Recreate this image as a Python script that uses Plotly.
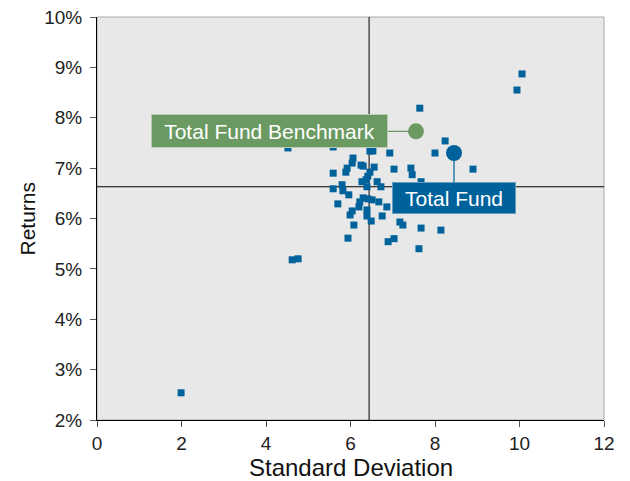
import plotly.graph_objects as go

std_dev = [10.06, 9.94, 4.62, 4.76, 1.99, 4.52, 7.64, 8.24, 8.00, 8.90,
           6.93, 7.03, 7.43, 7.46, 7.67, 6.46, 6.53, 5.59, 6.06, 6.04,
           5.92, 5.89, 6.25, 6.30, 6.56, 6.46, 6.41, 5.59, 6.27, 6.37,
           6.63, 6.72, 6.39, 5.80, 5.59, 5.82, 5.96, 5.70, 6.30, 6.41,
           6.51, 6.22, 6.67, 6.20, 6.86, 6.04, 5.99, 6.39, 6.39, 6.49,
           6.75, 6.08, 7.17, 7.24, 7.67, 8.14, 5.94, 6.89, 7.03, 7.62]
returns = [8.87, 8.55, 5.18, 5.20, 2.54, 7.40, 8.19, 7.54, 7.30, 6.98,
           7.30, 6.98, 7.00, 6.87, 6.73, 7.34, 7.34, 7.42, 7.20, 7.10,
           7.00, 6.92, 7.06, 7.04, 7.02, 6.92, 6.84, 6.90, 6.73, 6.77,
           6.73, 6.63, 6.63, 6.67, 6.59, 6.55, 6.47, 6.29, 6.41, 6.39,
           6.37, 6.33, 6.33, 6.23, 6.23, 6.15, 6.07, 6.17, 6.05, 5.95,
           6.05, 5.87, 5.93, 5.87, 5.81, 5.77, 5.61, 5.54, 5.60, 5.40]

fund_name = "Total Fund"
fund_point = (8.45, 7.30)
bench_name = "Total Fund Benchmark"
bench_point = (7.55, 7.73)
median_std = 6.44
median_ret = 6.63

x_ticks = [0, 2, 4, 6, 8, 10, 12]
y_ticks = [2, 3, 4, 5, 6, 7, 8, 9, 10]
y_labels = [f"{v}%" for v in y_ticks]
x_title = "Standard Deviation"
y_title = "Returns"

blue = "#00629b"
green = "#6a9a62"
font = "Arial, Liberation Sans, sans-serif"

fig = go.Figure()
fig.add_trace(go.Scatter(x=std_dev, y=returns, mode="markers",
                         marker=dict(symbol="square", size=7, color=blue),
                         hoverinfo="skip", showlegend=False))
fig.add_trace(go.Scatter(x=[bench_point[0]], y=[bench_point[1]], mode="markers",
                         marker=dict(symbol="circle", size=16, color=green),
                         showlegend=False))
fig.add_trace(go.Scatter(x=[fund_point[0]], y=[fund_point[1]], mode="markers",
                         marker=dict(symbol="circle", size=16, color=blue),
                         showlegend=False))

# crosshair lines
fig.add_shape(type="line", x0=median_std, x1=median_std, y0=2, y1=10,
              line=dict(color="black", width=1), layer="below")
fig.add_shape(type="line", x0=0, x1=12, y0=median_ret, y1=median_ret,
              line=dict(color="black", width=1), layer="below")
# border
fig.add_shape(type="rect", xref="paper", yref="paper", x0=0, x1=1, y0=0, y1=1,
              line=dict(color="#a8a8a8", width=1), layer="below")

fig.add_annotation(x=bench_point[0], y=bench_point[1], text=bench_name,
                   showarrow=True, arrowhead=0, arrowwidth=1.2, arrowcolor=green,
                   ax=-146, ay=0, bgcolor=green, bordercolor="#b8cdb4", borderwidth=1,
                   borderpad=4, width=227, height=24,
                   font=dict(family=font, size=21, color="white"))
fig.add_annotation(x=fund_point[0], y=fund_point[1], text=fund_name,
                   showarrow=True, arrowhead=0, arrowwidth=1.2, arrowcolor=blue,
                   ax=0, ay=45, bgcolor=blue, bordercolor="#6a9cc0", borderwidth=1,
                   borderpad=4, width=114, height=22,
                   font=dict(family=font, size=21, color="white"))

# axis titles
fig.add_annotation(xref="paper", yref="paper", x=0.5, y=0, yshift=-47,
                   text=x_title, showarrow=False, yanchor="middle",
                   font=dict(family=font, size=24, color="#111111"))
fig.add_annotation(xref="paper", yref="paper", x=0, y=0.5, xshift=-70,
                   text=y_title, showarrow=False, textangle=-90, xanchor="center",
                   font=dict(family=font, size=21, color="#111111"))

fig.update_layout(
    width=630, height=481,
    margin=dict(l=89, r=34, t=9, b=69),
    paper_bgcolor="white", plot_bgcolor="#e8e8e8",
    font=dict(family=font, size=19, color="#222222"),
    xaxis=dict(range=[0, 12], tickvals=x_ticks, showgrid=False, zeroline=False,
               showline=True, linecolor="black", linewidth=1, automargin=False,
               ticks="outside", ticklen=6, tickcolor="#555555",
               ticklabeloverflow="allow", tickfont=dict(size=19)),
    yaxis=dict(range=[2, 10], tickvals=y_ticks, ticktext=y_labels, showgrid=False,
               zeroline=False, showline=True, linecolor="black", linewidth=1,
               automargin=False, ticks="outside", ticklen=6, tickcolor="#555555",
               ticklabelstandoff=4, ticklabeloverflow="allow", tickfont=dict(size=19)),
)

fig.write_html("out.html")
